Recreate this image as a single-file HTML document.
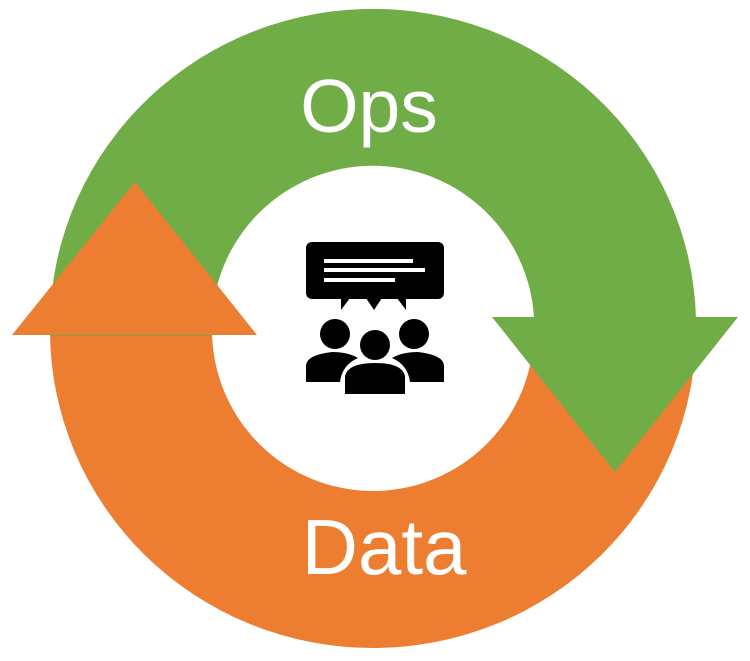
<!DOCTYPE html>
<html><head><meta charset="utf-8"><style>html,body{margin:0;padding:0;background:#fff}svg{display:block}</style></head>
<body>
<svg width="750" height="661" viewBox="0 0 750 661" xmlns="http://www.w3.org/2000/svg">
<!-- orange bottom half ring -->
<path d="M696,330 A323,318 0 0 1 50,330 L212,330 A161,161 0 0 0 534,330 Z" fill="#ED7D31"/>
<!-- green top half ring -->
<path d="M50,336 A323,318 0 0 1 696,318 L534,318 A161,161 0 0 0 212,336 Z" fill="#70AD47"/>
<path d="M534,317 L696,317 L696,335 L534,335 Z" fill="#70AD47"/>
<!-- green arrowhead -->
<polygon points="492,317 738,317 615,472" fill="#70AD47"/>
<!-- orange arrowhead -->
<polygon points="12,335 257,335 135,182" fill="#ED7D31"/>
<text x="369" y="132" font-family="Liberation Sans, sans-serif" font-size="75" fill="#fff" text-anchor="middle">Ops</text>
<text x="384" y="574" font-family="Liberation Sans, sans-serif" font-size="78" fill="#fff" text-anchor="middle">Data</text>
<!-- icon -->
<rect x="306" y="242" width="138" height="57" rx="6" fill="#000"/>
<rect x="324" y="259" width="89" height="4" fill="#fff"/>
<rect x="324" y="268" width="101" height="4" fill="#fff"/>
<rect x="324" y="278" width="71" height="4" fill="#fff"/>
<polygon points="341,298 341,310 350,298" fill="#000"/>
<polygon points="366,298 374,310 382,298" fill="#000"/>
<polygon points="397,298 406,310 406,298" fill="#000"/>
<ellipse cx="335" cy="334" rx="15" ry="15" fill="#000"/>
<ellipse cx="414" cy="334" rx="15" ry="15" fill="#000"/>
<path d="M306,382 L306,366 Q306,355 332,352 Q348,352 358,358 Q342,365 340,382 Z" fill="#000"/>
<path d="M444,382 L444,366 Q444,355 418,352 Q402,352 392,358 Q408,365 410,382 Z" fill="#000"/>
<ellipse cx="375" cy="345" rx="15" ry="15" fill="#000"/>
<path d="M345,394 L345,376 Q348,363 375,363 Q402,363 405,376 L405,394 Z" fill="#000"/>
</svg>
</body></html>
